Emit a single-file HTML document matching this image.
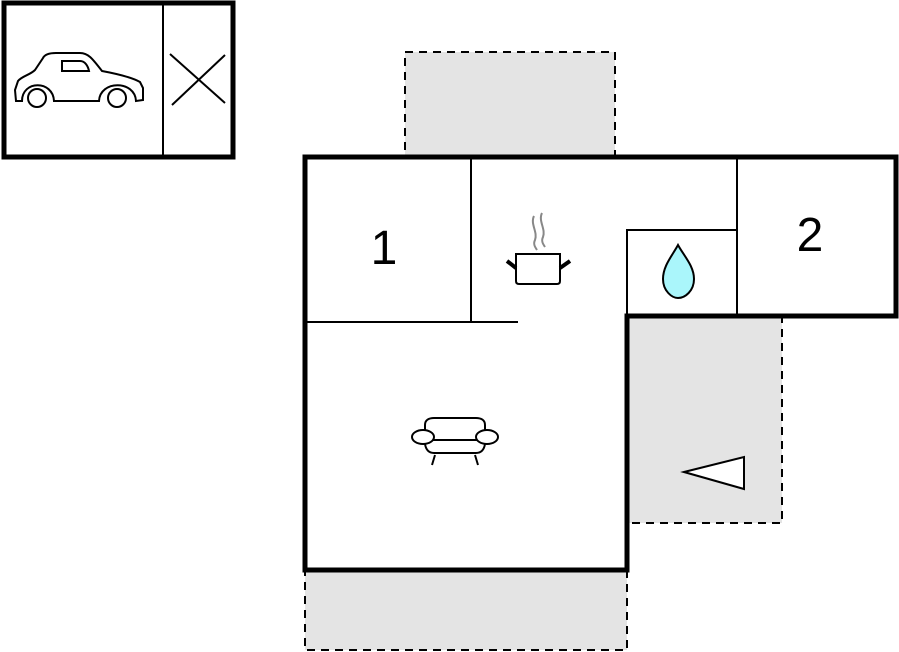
<!DOCTYPE html>
<html><head><style>html,body{margin:0;padding:0;background:#fff;}svg{display:block}</style></head>
<body>
<svg width="899" height="652" viewBox="0 0 899 652" xmlns="http://www.w3.org/2000/svg">
<!-- garage -->
<rect x="4" y="3" width="229" height="154" fill="#fff" stroke="#000" stroke-width="5"/>
<line x1="163" y1="3" x2="163" y2="157" stroke="#000" stroke-width="2"/>
<line x1="170" y1="54" x2="225" y2="103" stroke="#000" stroke-width="2"/>
<line x1="225" y1="55" x2="172" y2="105" stroke="#000" stroke-width="2"/>
<!-- car -->
<g fill="none" stroke="#000" stroke-width="2">
<path d="M22,101 L16,101 L15,90 L18,81 C22,76 30,75 35,70 L43,58 C45,54 50,53 56,53 L80,53 C88,53 92,58 102,71 C118,74 133,78 140,82 L143,88 L143,100 L136,101 C135,80 100,80 99,101 L54,101 C53,80 22,80 22,101 Z"/>
<circle cx="37" cy="98" r="9"/>
<circle cx="117" cy="98" r="9"/>
<path d="M62,61 L80,61 C85,61 88,66 89,71 L62,71 Z"/>
</g>
<!-- dashed gray areas -->
<g fill="#e4e4e4" stroke="#000" stroke-width="2" stroke-dasharray="8,6">
<rect x="405" y="52" width="210" height="105"/>
<rect x="627" y="316" width="155" height="207"/>
<rect x="305" y="570" width="322" height="80"/>
</g>
<!-- main outline -->
<path d="M305,157 L896,157 L896,316 L627,316 L627,570 L305,570 Z" fill="#fff" stroke="#000" stroke-width="5"/>
<rect x="630" y="319" width="150" height="202" fill="#e4e4e4"/>
<line x1="627" y1="316" x2="627" y2="570" stroke="#000" stroke-width="5"/>
<g stroke="#000" stroke-width="2" fill="none">
<line x1="471" y1="157" x2="471" y2="322"/>
<line x1="305" y1="322" x2="518" y2="322"/>
<line x1="737" y1="157" x2="737" y2="316"/>
<polyline points="627,316 627,230 737,230"/>
</g>
<text x="384" y="264" font-family="Liberation Sans, sans-serif" font-size="48" text-anchor="middle">1</text>
<text x="810" y="251" font-family="Liberation Sans, sans-serif" font-size="48" text-anchor="middle">2</text>
<!-- drop -->
<path d="M678,245 C672,256 663,266 663,279 C663,291 672,298 678,298 C685,298 694,291 694,279 C694,266 684,256 678,245 Z" fill="#aaf6fb" stroke="#000" stroke-width="2"/>
<!-- pot -->
<g>
<path d="M534,216 C530,224 538,232 535,240 C533,244 535,247 537,250 M542,213 C538,221 546,229 543,237 C541,241 543,244 545,247" stroke="#888" stroke-width="2" fill="none"/>
<path d="M516,254 L560,254 L560,281 C560,283 559,284 557,284 L519,284 C517,284 516,283 516,281 Z" fill="#fff" stroke="#000" stroke-width="2"/>
<line x1="507" y1="261" x2="516" y2="268" stroke="#000" stroke-width="4"/>
<line x1="570" y1="261" x2="560" y2="268" stroke="#000" stroke-width="4"/>
</g>
<!-- sofa -->
<g fill="none" stroke="#000" stroke-width="2">
<path d="M425,430 L425,425 C425,420 429,418 434,418 L476,418 C481,418 485,420 485,425 L485,430"/>
<path d="M425,444 C426,450 429,453 434,453 L476,453 C481,453 484,450 485,444"/>
<line x1="433" y1="440" x2="477" y2="440"/>
<ellipse cx="423" cy="437" rx="11" ry="7" fill="#fff"/>
<ellipse cx="487" cy="437" rx="11" ry="7" fill="#fff"/>
<line x1="435" y1="455" x2="432" y2="465"/>
<line x1="475" y1="455" x2="478" y2="465"/>
</g>
<!-- triangle -->
<polygon points="684,472 744,457 744,489" fill="#fff" stroke="#000" stroke-width="2"/>
</svg>
</body></html>
